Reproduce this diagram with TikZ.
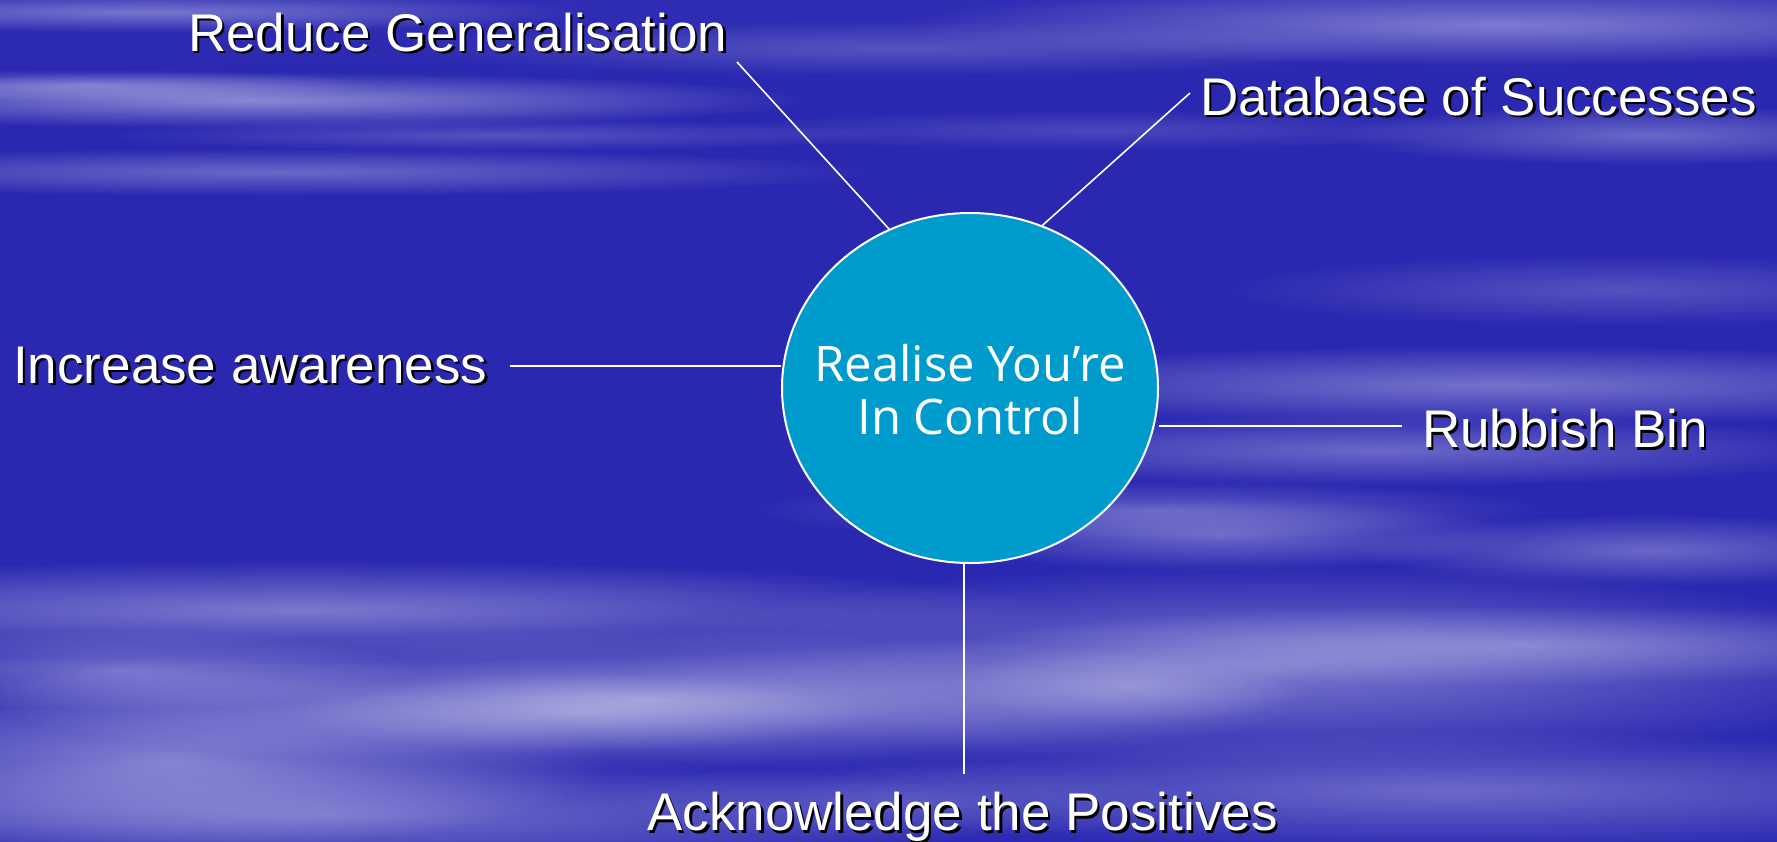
\documentclass[tikz,border=0pt]{standalone}
\usepackage{fontspec}
\setmainfont{Liberation Sans}
\newfontfamily\centerfont{Open Sans}
\usetikzlibrary{shapes.geometric,fadings,calc}
\definecolor{skybase}{RGB}{42,40,176}
\definecolor{skymid}{RGB}{54,52,184}
\definecolor{skytop}{RGB}{74,74,196}
\definecolor{skybot}{RGB}{50,48,184}
\definecolor{discblue}{RGB}{0,155,205}
\pgfdeclareverticalshading{skyshade}{100bp}{color(0bp)=(skybot); color(35bp)=(skybase); color(70bp)=(skybase); color(82bp)=(skymid); color(100bp)=(skytop)}
\tikzfading[name=fuzzy, inner color=transparent!0, outer color=transparent!100]
\newcommand{\cloudblob}[5]{\fill[white, fill opacity=#5, path fading=fuzzy] (#1,#2) ellipse ({2*#3} and {2*#4});}
\tikzset{
  lbl/.style={anchor=base west, inner sep=0pt, text=white, font=\fontsize{53}{60}\selectfont},
  lblshadow/.style={lbl, text=black},
  connector/.style={draw=white, line width=1.6pt},
  disc/.style={ellipse, draw=white, line width=2pt, fill=discblue, minimum width=376pt, minimum height=350pt, inner sep=0pt},
  disctext/.style={text=white, align=center, inner sep=0pt, font=\centerfont\fontsize{49}{53}\selectfont}
}
\begin{document}
\begin{tikzpicture}[x=1pt,y=-1pt]
\useasboundingbox (0,0) rectangle (1777,841);
\shade[shading=skyshade] (0,0) rectangle (1777,841);
\begin{scope}
\clip (0,0) rectangle (1777,841);
% top streaks
\cloudblob{150}{12}{220}{10}{0.35}
\cloudblob{250}{100}{280}{14}{0.45}
\cloudblob{80}{85}{150}{8}{0.3}
\cloudblob{280}{172}{300}{12}{0.3}
\cloudblob{500}{135}{200}{8}{0.2}
\cloudblob{900}{48}{250}{14}{0.2}
\cloudblob{1100}{130}{200}{10}{0.15}
\cloudblob{1500}{25}{300}{20}{0.38}
\cloudblob{1650}{135}{160}{15}{0.3}
\cloudblob{1620}{290}{200}{18}{0.2}
\cloudblob{1500}{385}{300}{20}{0.35}
\cloudblob{1380}{450}{250}{18}{0.3}
\cloudblob{1150}{510}{200}{15}{0.25}
% bottom clouds
\cloudblob{300}{610}{380}{25}{0.38}
\cloudblob{120}{670}{150}{20}{0.35}
\cloudblob{650}{700}{330}{35}{0.48}
\cloudblob{580}{712}{150}{20}{0.3}
\cloudblob{170}{760}{220}{45}{0.42}
\cloudblob{1280}{665}{330}{50}{0.38}
\cloudblob{1130}{685}{90}{20}{0.25}
\cloudblob{1520}{645}{280}{20}{0.3}
\cloudblob{1220}{535}{150}{18}{0.3}
\cloudblob{1650}{550}{150}{18}{0.3}
\cloudblob{1450}{790}{330}{30}{0.3}
\cloudblob{330}{815}{350}{30}{0.32}
\cloudblob{900}{800}{150}{20}{0.15}
\end{scope}

% free ends of connectors
\coordinate (rg-end) at (737,62);
\coordinate (db-end) at (1190,93);
\coordinate (ia-end) at (510,366);
\coordinate (rb-end) at (1402,426);
\coordinate (ap-end) at (964,774);

% central disc (shape first, so its anchors exist; connectors drawn behind it)
\path node[disc, draw=none, fill=none] (c) at (970,388) {};
\draw[connector] (rg-end) -- (c.117.7);
\draw[connector] (db-end) -- (c.66.4);
\draw[connector] (ia-end) -- (ia-end -| c.west);
\draw[connector] (rb-end) -- (rb-end -| c.east);
\draw[connector] (ap-end) -- (ap-end |- c.south);
\node[disc] (cdisc) at (c) {};
\node[disctext] (ct) at (970,390) {Realise You’re\\In Control};

% labels with shadows
\node[lblshadow] (rg-s) at (190.5,53.5) {Reduce Generalisation};
\node[lbl] (rg) at (188,51) {Reduce Generalisation};
\node[lblshadow] (db-s) at (1202.5,117.5) {Database of Successes};
\node[lbl] (db) at (1200,115) {Database of Successes};
\node[lblshadow] (ia-s) at (15.5,385.5) {Increase awareness};
\node[lbl] (ia) at (13,383) {Increase awareness};
\node[lblshadow] (rb-s) at (1424.5,450) {Rubbish Bin};
\node[lbl] (rb) at (1422,447.5) {Rubbish Bin};
\node[lblshadow] (ap-s) at (649.5,833) {Acknowledge the Positives};
\node[lbl] (ap) at (647,830.5) {Acknowledge the Positives};
\end{tikzpicture}
\end{document}
